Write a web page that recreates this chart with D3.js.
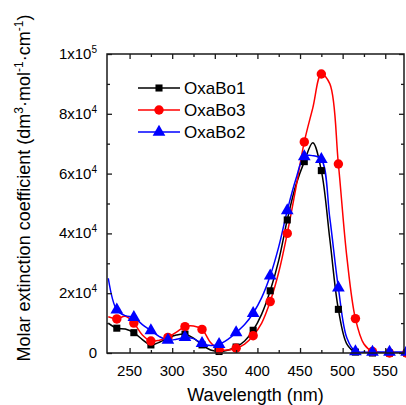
<!DOCTYPE html>
<html>
<head>
<meta charset="utf-8">
<script src="https://cdn.jsdelivr.net/npm/d3@7"></script>
<style>
  body { margin: 0; background: #fff; }
  svg { font-family: "Liberation Sans", Arial, sans-serif; }
</style>
</head>
<body>
<div id="chart"></div>
<script>
// wavelengths of the spectra (nm)
var wavelengths = [225, 235, 245, 255, 265, 275, 285, 295, 305, 315, 325, 335, 345, 355, 365, 375,
                   385, 395, 405, 415, 425, 435, 445, 455, 465, 475, 485, 495, 505, 515, 525, 535,
                   545, 555, 565, 575];

// molar extinction coefficient, dm3 mol-1 cm-1
var oxabo1 = [10000, 8300, 8000, 6800, 4500, 2700, 3600, 5000, 6000, 6300, 5000, 2700, 1000, 500, 900, 2000,
              4000, 7600, 13000, 20800, 31000, 44500, 56000, 64000, 70300, 61000, 38000, 14600, 3000, 300, 0, 0,
              0, 0, 0, 0];
var oxabo3 = [12100, 11400, 12300, 10000, 6000, 4000, 4300, 5200, 7000, 8800, 9000, 7900, 3500, 1200, 1000, 1600,
              3000, 5800, 10000, 17200, 27000, 40000, 55000, 70600, 82000, 93300, 90000, 63200, 32000, 11500, 3000, 500,
              100, 0, 0, 0];
var oxabo2 = [25000, 14400, 12500, 11900, 9500, 7500, 5500, 4300, 4600, 5200, 4800, 3200, 2500, 2900, 4500, 6800,
              9500, 13300, 18500, 25800, 35500, 47600, 58000, 65700, 66000, 64800, 45000, 21800, 5000, 500, 300, 300,
              300, 300, 300, 300];

// symbols are drawn every 20 nm
var marker_wavelengths = [235, 255, 275, 295, 315, 335, 355, 375, 395, 415, 435, 455, 475, 495, 515, 535, 555, 575];

var series_names = ['OxaBo1', 'OxaBo3', 'OxaBo2'];
var series_values = [oxabo1, oxabo3, oxabo2];
var series_colors = ['#000000', '#ff0000', '#0000ff'];
var series_symbols = [d3.symbolSquare, d3.symbolCircle, d3.symbolTriangle];
var symbol_sizes = [50, 70, 70];

var x_ticks = [250, 300, 350, 400, 450, 500, 550];
var x_minor = [275, 325, 375, 425, 475, 525];
var y_ticks = [0, 20000, 40000, 60000, 80000, 100000];
var y_minor = [10000, 30000, 50000, 70000, 90000];
var y_tick_labels = [['0', ''], ['2x10', '4'], ['4x10', '4'], ['6x10', '4'], ['8x10', '4'], ['1x10', '5']];

var SVG_WIDTH = 406, SVG_HEIGHT = 405;
var LEFT = 107, RIGHT = 404, TOP = 54, BOTTOM = 353;

var svg = d3.select('#chart').append('svg')
	.attr('width', SVG_WIDTH)
	.attr('height', SVG_HEIGHT);

var x = d3.scaleLinear().domain([223.5, 572]).range([LEFT, RIGHT]);
var y = d3.scaleLinear().domain([0, 100000]).range([BOTTOM, TOP]);

svg.append('clipPath').attr('id', 'plot_clip')
	.append('rect')
	.attr('x', LEFT).attr('y', TOP)
	.attr('width', RIGHT - LEFT).attr('height', BOTTOM - TOP);

// spectra
var line = d3.line()
	.x(function(d) { return x(d.x); })
	.y(function(d) { return y(d.y); })
	.curve(d3.curveCatmullRom.alpha(0.5));

var lines_g = svg.append('g').attr('clip-path', 'url(#plot_clip)');
series_values.forEach(function(values, i) {
	var data = wavelengths.map(function(w, j) { return {x : w, y : values[j]}; });
	lines_g.append('path')
		.datum(data)
		.attr('fill', 'none')
		.attr('stroke', series_colors[i])
		.attr('stroke-width', 1.5)
		.attr('d', line);
});

series_values.forEach(function(values, i) {
	var data = wavelengths.map(function(w, j) { return {x : w, y : values[j]}; })
		.filter(function(d) { return marker_wavelengths.indexOf(d.x) >= 0; });
	svg.append('g').selectAll('path')
		.data(data)
		.enter().append('path')
		.attr('transform', function(d) { return 'translate(' + x(d.x) + ',' + y(d.y) + ')'; })
		.attr('d', d3.symbol().type(series_symbols[i]).size(symbol_sizes[i]))
		.attr('fill', series_colors[i]);
});

// axes, ticks inside on all four sides
var axis_color = '#1a1a1a';
function add_axis(axis, tx, ty) {
	var g = svg.append('g')
		.attr('transform', 'translate(' + tx + ',' + ty + ')')
		.call(axis);
	g.select('.domain').remove();
	g.selectAll('line').attr('stroke', axis_color).attr('stroke-width', 1.3);
	g.selectAll('text').remove();
	return g;
}
add_axis(d3.axisBottom(x).tickValues(x_ticks).tickSizeInner(-5).tickSizeOuter(0), 0, BOTTOM);
add_axis(d3.axisBottom(x).tickValues(x_minor).tickSizeInner(-3).tickSizeOuter(0), 0, BOTTOM);
add_axis(d3.axisTop(x).tickValues(x_ticks).tickSizeInner(-5).tickSizeOuter(0), 0, TOP);
add_axis(d3.axisTop(x).tickValues(x_minor).tickSizeInner(-3).tickSizeOuter(0), 0, TOP);
add_axis(d3.axisLeft(y).tickValues(y_ticks).tickSizeInner(-5).tickSizeOuter(0), LEFT, 0);
add_axis(d3.axisLeft(y).tickValues(y_minor).tickSizeInner(-3).tickSizeOuter(0), LEFT, 0);
add_axis(d3.axisRight(y).tickValues(y_ticks).tickSizeInner(-5).tickSizeOuter(0), RIGHT, 0);
add_axis(d3.axisRight(y).tickValues(y_minor).tickSizeInner(-3).tickSizeOuter(0), RIGHT, 0);

svg.append('rect')
	.attr('x', LEFT).attr('y', TOP)
	.attr('width', RIGHT - LEFT).attr('height', BOTTOM - TOP)
	.attr('fill', 'none')
	.attr('stroke', axis_color)
	.attr('stroke-width', 1.5);

// tick labels
svg.append('g').selectAll('text')
	.data(x_ticks)
	.enter().append('text')
	.attr('x', function(d) { return x(d); })
	.attr('y', BOTTOM + 23)
	.attr('text-anchor', 'middle')
	.attr('font-size', 15)
	.attr('fill', '#000')
	.text(function(d) { return d; });

var ylab = svg.append('g').selectAll('text')
	.data(y_ticks)
	.enter().append('text')
	.attr('x', LEFT - 10)
	.attr('y', function(d) { return y(d) + 5; })
	.attr('text-anchor', 'end')
	.attr('font-size', 15)
	.attr('fill', '#000');
ylab.append('tspan').text(function(d, i) { return y_tick_labels[i][0]; });
ylab.append('tspan')
	.attr('dy', -6)
	.attr('font-size', 10)
	.text(function(d, i) { return y_tick_labels[i][1]; });

// axis titles
svg.append('text')
	.attr('x', (LEFT + RIGHT) / 2)
	.attr('y', 401)
	.attr('text-anchor', 'middle')
	.attr('font-size', 18)
	.text('Wavelength (nm)');

var ytitle = svg.append('text')
	.attr('transform', 'translate(30,' + 188 + ') rotate(-90)')
	.attr('text-anchor', 'middle')
	.attr('font-size', 18);
ytitle.append('tspan').text('Molar extinction coefficient (dm');
ytitle.append('tspan').attr('dy', -7).attr('font-size', 12).text('3');
ytitle.append('tspan').attr('dy', 7).text('\u00b7mol');
ytitle.append('tspan').attr('dy', -7).attr('font-size', 12).text('-1');
ytitle.append('tspan').attr('dy', 7).text('\u00b7cm');
ytitle.append('tspan').attr('dy', -7).attr('font-size', 12).text('-1');
ytitle.append('tspan').attr('dy', 7).text(')');

// legend
var legend = svg.append('g');
series_names.forEach(function(name, i) {
	var ly = 88 + i * 22;
	legend.append('line')
		.attr('x1', 138).attr('x2', 180)
		.attr('y1', ly).attr('y2', ly)
		.attr('stroke', series_colors[i])
		.attr('stroke-width', 1.5);
	legend.append('path')
		.attr('transform', 'translate(159,' + ly + ')')
		.attr('d', d3.symbol().type(series_symbols[i]).size(symbol_sizes[i]))
		.attr('fill', series_colors[i]);
	legend.append('text')
		.attr('x', 184)
		.attr('y', ly + 6)
		.attr('font-size', 17)
		.text(name);
});
</script>
</body>
</html>
